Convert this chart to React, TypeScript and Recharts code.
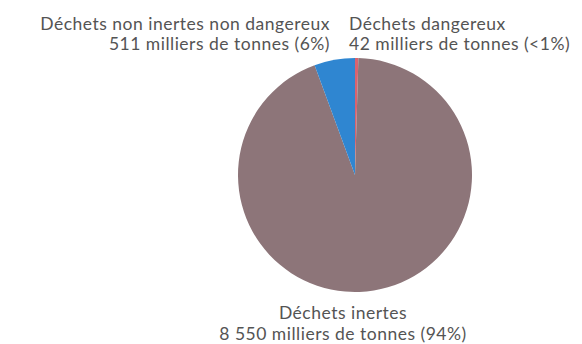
import { PieChart, Pie, Cell } from "recharts";

const categories = ["Déchets dangereux", "Déchets inertes", "Déchets non inertes non dangereux"];
const tonnages = [42, 8550, 511];
const amountLabels = [
  "42 milliers de tonnes (<1%)",
  "8 550 milliers de tonnes (94%)",
  "511 milliers de tonnes (6%)",
];
const COLORS = ["#d9636f", "#8d7579", "#2f86d1"];

const data = categories.map((name, i) => ({ name, value: tonnages[i], amount: amountLabels[i] }));

const TEXT = {
  fill: "#545454",
  fontSize: 17.5,
  letterSpacing: 0.5,
  fontFamily: "Lato, 'Noto Sans', sans-serif",
};

// labels sit above (small slices) or below (big slice) the pie, like the original
function renderLabel(props: any) {
  const { cx, cy, outerRadius, index } = props;
  const d = data[index];
  if (index === 1) {
    const x = cx - 12;
    const y = cy + outerRadius + 27;
    return (
      <text key={index} x={x} y={y} textAnchor="middle" {...TEXT}>
        <tspan x={x} dy={0}>{d.name}</tspan>
        <tspan x={x} dy={21}>{d.amount}</tspan>
      </text>
    );
  }
  const y = cy - outerRadius - 28;
  const x = index === 0 ? cx - 6 : cx - 25;
  const anchor = index === 0 ? "start" : "end";
  return (
    <text key={index} x={x} y={y} textAnchor={anchor} {...TEXT}>
      <tspan x={x} dy={0}>{d.name}</tspan>
      <tspan x={x} dy={20}>{d.amount}</tspan>
    </text>
  );
}

export default function App() {
  return (
    <div style={{ position: "absolute", left: 0, top: 0, background: "#fff", width: 582, height: 344 }}>
      <PieChart width={582} height={344}>
        <Pie
          data={data}
          dataKey="value"
          nameKey="name"
          cx={350}
          cy={170}
          outerRadius={117}
          startAngle={90}
          endAngle={-270}
          stroke="none"
          label={renderLabel}
          labelLine={false}
          isAnimationActive={false}
        >
          {data.map((_, i) => (
            <Cell key={i} fill={COLORS[i]} />
          ))}
        </Pie>
      </PieChart>
    </div>
  );
}
